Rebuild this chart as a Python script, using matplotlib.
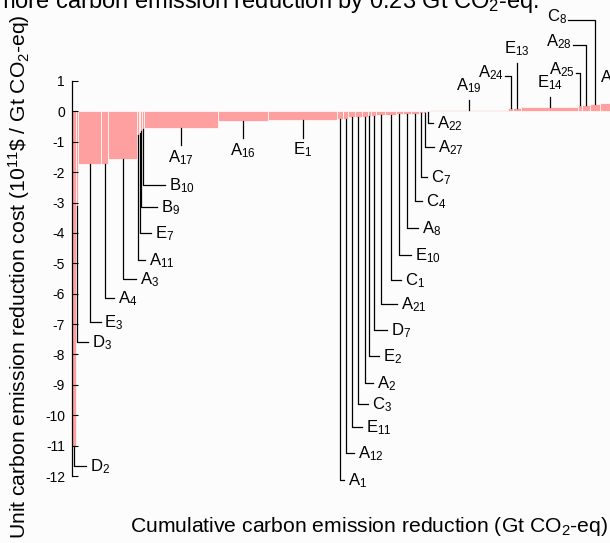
import matplotlib
matplotlib.use('agg')
import matplotlib.pyplot as plt
import numpy as np

plt.rcParams['font.family'] = ['Liberation Sans', 'DejaVu Sans']
plt.rcParams['mathtext.default'] = 'regular'
plt.rcParams['axes.unicode_minus'] = False

# measures, left to right (width = reduction, cost = unit cost)
names = ['D$_2$', 'D$_3$', 'E$_3$', 'A$_4$', 'A$_3$', 'A$_{11}$', 'E$_7$', 'B$_9$', 'B$_{10}$',
         'A$_{17}$', 'A$_{16}$', 'E$_1$',
         'A$_1$', 'A$_{12}$', 'E$_{11}$', 'C$_3$', 'A$_2$', 'E$_2$', 'D$_7$', 'A$_{21}$',
         'C$_1$', 'E$_{10}$', 'A$_8$', 'C$_4$', 'C$_7$', 'A$_{27}$', 'A$_{22}$',
         'A$_{19}$', 'A$_{24}$', 'E$_{13}$', 'E$_{14}$', 'A$_{25}$', 'A$_{28}$', 'C$_8$', 'A$_{26}$']
widths = [0.04, 0.02, 0.23, 0.07, 0.29, 0.018, 0.015, 0.015, 0.017,
          0.745, 0.50, 0.69,
          0.063, 0.05, 0.067, 0.067, 0.058, 0.038, 0.045, 0.095,
          0.105, 0.072, 0.078, 0.079, 0.043, 0.03, 0.04,
          0.78, 0.05, 0.08, 0.57, 0.04, 0.08, 0.10, 0.80]
costs = [-11.0, -3.1, -1.72, -1.72, -1.56, -0.78, -0.72, -0.65, -0.58,
         -0.54, -0.32, -0.28,
         -0.26, -0.25, -0.20, -0.19, -0.17, -0.15, -0.14, -0.13,
         -0.11, -0.10, -0.08, -0.07, -0.05, -0.04, -0.03,
         0.04, 0.10, 0.11, 0.14, 0.22, 0.22, 0.23, 0.29]

# label layout: style, end of leader line (y), elbow length (px)
styles = ['L'] * 9 + ['v'] * 3 + ['L'] * 15 + ['^', 'r', '^', '^', 'r', 'r', 'r', 'r']
label_y = [-11.68, -7.6, -6.94, -6.15, -5.53, -4.9, -4.01, -3.16, -2.43,
           -1.1, -0.89, -0.86,
           -12.14, -11.25, -10.39, -9.64, -8.95, -8.06, -7.2, -6.35,
           -5.56, -4.74, -3.85, -2.96, -2.17, -1.18, -0.39,
           0.36, 1.15, 1.58, 0.46, 1.25, 2.17, 3.0, 0.99]
elbow = [12, 11, 11, 9, 13, 7, 11, 16, 22,
         0, 0, 0,
         4, 8, 10, 10, 8, 10, 13, 16,
         10, 12, 11, 7, 6, 9, 5,
         0, 6, 0, 0, 4, 13, 27, 13]

lefts = np.concatenate([[0], np.cumsum(widths)[:-1]])
centers = lefts + np.array(widths) / 2

fig = plt.figure(figsize=(6.1, 5.43), dpi=100)
fig.patch.set_facecolor('#fcfcfc')
ax = fig.add_axes([72 / 610, 67 / 543, 538 / 610, 395 / 543])
ax.set_facecolor('#fcfcfc')

ax.bar(lefts, costs, width=widths, align='edge', color='#ffa0a0',
       edgecolor='white', linewidth=0.5)

px = 0.01  # one pixel in x data units
for name, xc, v, st, ly, h in zip(names, centers, costs, styles, label_y, elbow):
    if st == 'L':
        ax.plot([xc, xc, xc + h * px], [v, ly, ly], color='black', lw=0.9, clip_on=False)
        ax.annotate(name, (xc + h * px, ly), xytext=(4, -5), textcoords='offset pixels',
                    ha='left', va='baseline', fontsize=12, annotation_clip=False)
    elif st == 'v':
        ax.plot([xc, xc], [v, ly], color='black', lw=0.9, clip_on=False)
        ax.annotate(name, (xc, ly), xytext=(0, -3), textcoords='offset pixels',
                    ha='center', va='top', fontsize=12, annotation_clip=False)
    elif st == '^':
        ax.plot([xc, xc], [v, ly], color='black', lw=0.9, clip_on=False)
        ax.annotate(name, (xc, ly), xytext=(0, 10), textcoords='offset pixels',
                    ha='center', va='baseline', fontsize=12, annotation_clip=False)
    else:
        ax.plot([xc, xc, xc - h * px], [v, ly, ly], color='black', lw=0.9, clip_on=False)
        ax.annotate(name, (xc - h * px, ly), xytext=(-1, -1), textcoords='offset pixels',
                    ha='right', va='baseline', fontsize=12, annotation_clip=False)

ax.set_xlim(0, 5.38)
ax.set_ylim(-12, 1)
ax.set_yticks(np.arange(1, -13, -1))
ax.set_xticks([])
for s in ['top', 'right', 'bottom']:
    ax.spines[s].set_visible(False)
ax.spines['left'].set_linewidth(0.9)
ax.tick_params(axis='y', direction='in', length=4, width=0.8, pad=5, labelsize=10)

fig.text(608 / 610, 11 / 543, 'Cumulative carbon emission reduction (Gt CO$_2$-eq)',
         ha='right', va='baseline', fontsize=15.2)
fig.text(19 / 610, 4 / 543, r'Unit carbon emission reduction cost (10$^{11}$\$ / Gt CO$_2$-eq)',
         rotation=90, ha='center', va='bottom', fontsize=15.2)
fig.text(-5 / 610, 1 - 8 / 543, 'more carbon emission reduction by 0.23 Gt CO$_2$-eq.',
         ha='left', va='baseline', fontsize=17)

fig.savefig('out.png', dpi=100, facecolor=fig.get_facecolor())
